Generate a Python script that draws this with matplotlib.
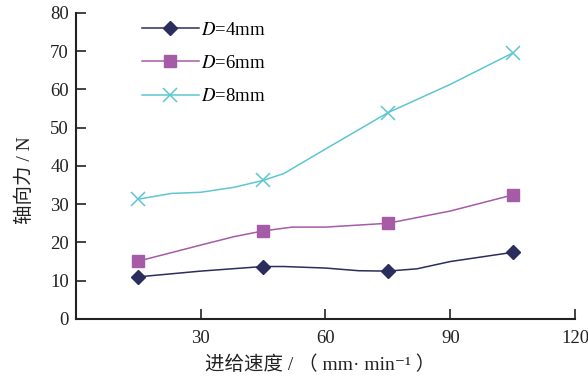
import matplotlib
matplotlib.use("Agg")
import matplotlib.pyplot as plt

# feed speed (mm/min) and axial force (N)
x_d4 = [15, 30, 45, 50, 60, 68, 75, 82, 90, 105]
y_d4 = [11.0, 12.5, 13.7, 13.7, 13.3, 12.6, 12.5, 13.1, 15.0, 17.4]
mk_d4 = [0, 2, 6, 9]

x_d6 = [15, 30, 38, 45, 52, 60, 75, 90, 105]
y_d6 = [15.1, 19.3, 21.5, 23.0, 24.0, 24.0, 25.0, 28.2, 32.4]
mk_d6 = [0, 3, 6, 8]

x_d8 = [15, 23, 30, 38, 45, 50, 60, 75, 90, 105]
y_d8 = [31.3, 32.8, 33.1, 34.4, 36.2, 38.0, 44.4, 53.9, 61.3, 69.5]
mk_d8 = [0, 4, 7, 9]

labels = ["$D$=4mm", "$D$=6mm", "$D$=8mm"]
xticks = [30, 60, 90, 120]
yticks = [0, 10, 20, 30, 40, 50, 60, 70, 80]

fonts = ['Liberation Serif', 'Noto Sans CJK SC', 'DejaVu Serif']
plt.rcParams['font.family'] = fonts
plt.rcParams['mathtext.fontset'] = 'stix'

fig = plt.figure(figsize=(5.88, 3.77), dpi=100)
ax = fig.add_axes([0.129, 0.154, 0.849, 0.812])

ax.plot(x_d4, y_d4, color='#2b2d5c', lw=1.1, marker='D', markersize=7.5,
        markevery=mk_d4, label=labels[0])
ax.plot(x_d6, y_d6, color='#a55ba6', lw=1.1, marker='s', markersize=8,
        markevery=mk_d6, label=labels[1])
ax.plot(x_d8, y_d8, color='#5ec6d2', lw=1.1, marker='x', markersize=10,
        markeredgewidth=1.1, markevery=mk_d8, label=labels[2])

ax.set_xlim(0, 120)
ax.set_ylim(0, 80)
ax.set_xticks(xticks)
ax.set_yticks(yticks)
ax.tick_params(direction='in', length=7, width=1.2, labelsize=13.5, colors='#222222')
ax.tick_params(axis='x', pad=8)
ax.tick_params(axis='y', pad=5)

for side in ['top', 'right']:
    ax.spines[side].set_visible(False)
for side in ['left', 'bottom']:
    ax.spines[side].set_linewidth(1.5)
    ax.spines[side].set_color('#222222')

ax.set_xlabel("进给速度 / （ mm· min⁻¹ ）", fontsize=14, color='#222222')
ax.set_ylabel("轴向力 / N", fontsize=14, color='#222222')
ax.xaxis.set_label_coords(0.489, -0.150)
ax.yaxis.set_label_coords(-0.102, 0.454)
ax.xaxis.label.set_verticalalignment('center')
ax.yaxis.label.set_verticalalignment('center')

ax.legend(loc='upper left', bbox_to_anchor=(0.118, 0.995), frameon=False,
          fontsize=13.5, handlelength=3.0, handletextpad=0.15,
          labelspacing=0.85, borderaxespad=0)

fig.savefig("out.png", dpi=100)
